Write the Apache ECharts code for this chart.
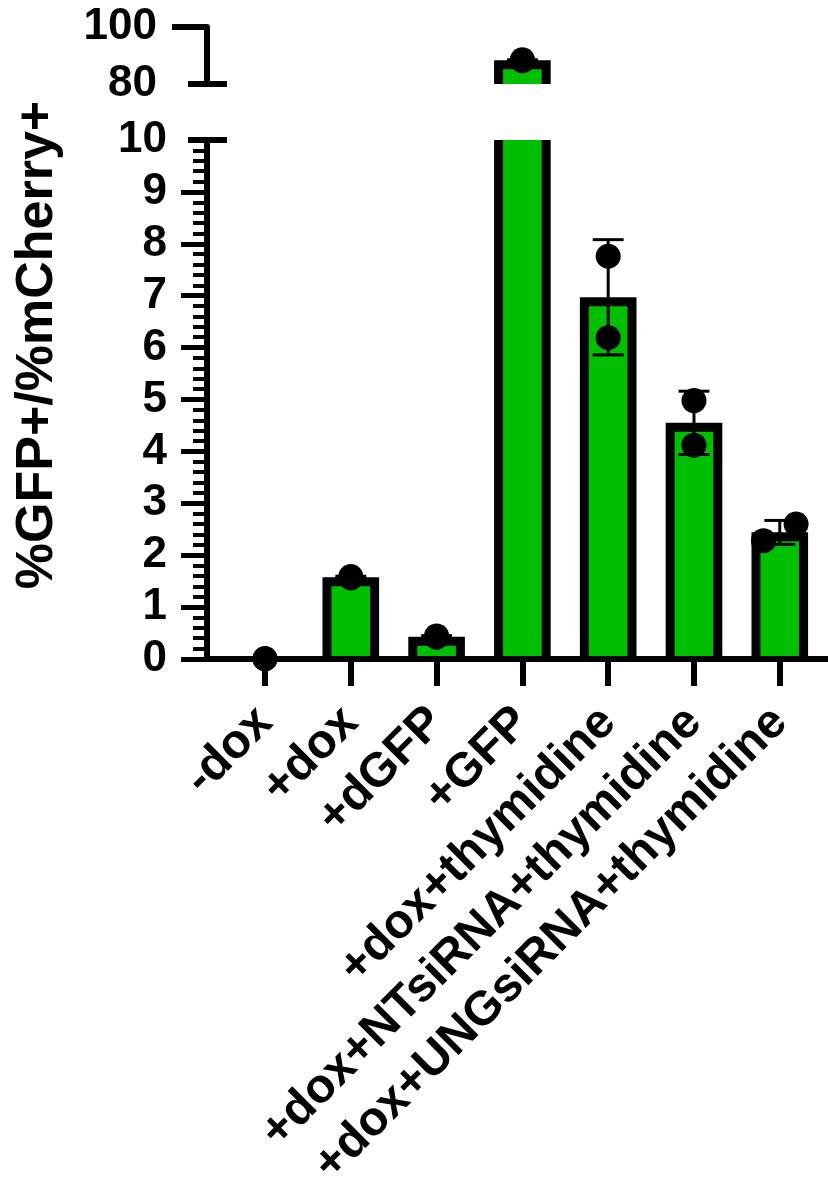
<!DOCTYPE html>
<html><head><meta charset="utf-8">
<script src="https://cdn.jsdelivr.net/npm/echarts@6/dist/echarts.min.js"></script>
<style>html,body{margin:0;padding:0;background:#fff}#c{width:828px;height:1183px}</style>
</head><body><div id="c"></div>
<script>
// ---------- data ----------
const categories = ['-dox', '+dox', '+dGFP', '+GFP', '+dox+thymidine', '+dox+NTsiRNA+thymidine', '+dox+UNGsiRNA+thymidine'];
const means = [0.005, 1.575, 0.43, 88.3, 6.97, 4.55, 2.44];
const sds = [0.005, 0.02, 0.02, 0.2, 1.11, 0.61, 0.23];
const replicate1 = [0.0, 1.59, 0.445, 88.5, 7.76, 4.98, 2.28];
const replicate2 = [0.01, 1.56, 0.42, 88.2, 6.19, 4.12, 2.60];
const lowerTickLabels = [0, 1, 2, 3, 4, 5, 6, 7, 8, 9, 10];
const upperTickLabels = [80, 100];

// ---------- layout / style ----------
const FONT = '"Liberation Sans", Arial, Helvetica, sans-serif';
const GREEN = '#00BE00';
const LOWER = { min: 0, max: 10 };
const UPPER = { min: 80, max: 100 };
const X_RANGE = { min: -0.676, max: 6.562 };
const BAR_W = 0.66;       // bar width, category units
const CAP_W = 0.36;       // error cap width, category units
const BORDER = 9;         // px
const POINT_SPREAD = [[0, 0], [0, 0], [0, 0], [0, 0], [0, 0], [0, 0], [-0.19, 0.19]];

const catIdx = categories.map((_, i) => i);
const replicates = [replicate1, replicate2];

function barRenderer(yMin) {
  return function (params, api) {
    const i = api.value(0), v = api.value(1);
    if (v <= yMin) return null;
    const cs = params.coordSys;
    const base = api.coord([i, yMin]);
    const top = api.coord([i, v]);
    const w = api.size([BAR_W, 0])[0];
    const x0 = base[0] - w / 2;
    const clip = { x: cs.x, y: cs.y, width: cs.width, height: cs.height };
    const children = [];
    const outer = echarts.graphic.clipRectByRect({ x: x0, y: top[1], width: w, height: base[1] - top[1] }, clip);
    if (outer) children.push({ type: 'rect', shape: outer, style: { fill: '#000' } });
    const ih = base[1] - top[1] - BORDER;
    if (ih > 0) {
      const inner = echarts.graphic.clipRectByRect({ x: x0 + BORDER, y: top[1] + BORDER, width: w - 2 * BORDER, height: ih }, clip);
      if (inner) children.push({ type: 'rect', shape: inner, style: { fill: GREEN } });
    }
    return { type: 'group', children };
  };
}

function errRenderer(range) {
  return function (params, api) {
    const i = api.value(0), m = api.value(1), s = api.value(2);
    if (m < range.min || m > range.max) return null;
    const hi = api.coord([i, m + s]), lo = api.coord([i, m - s]);
    const cw = api.size([CAP_W, 0])[0];
    const st = { stroke: '#000', lineWidth: 3 };
    return {
      type: 'group', children: [
        { type: 'line', shape: { x1: hi[0], y1: hi[1], x2: lo[0], y2: lo[1] }, style: st },
        { type: 'line', shape: { x1: hi[0] - cw / 2, y1: hi[1], x2: hi[0] + cw / 2, y2: hi[1] }, style: st },
        { type: 'line', shape: { x1: lo[0] - cw / 2, y1: lo[1], x2: lo[0] + cw / 2, y2: lo[1] }, style: st }
      ]
    };
  };
}

function breakCapRenderer(value) {
  return function (params, api) {
    const cs = params.coordSys;
    const p = api.coord([X_RANGE.min, value]);
    return { type: 'line', shape: { x1: cs.x - 19, y1: p[1], x2: cs.x + 20, y2: p[1] }, style: { stroke: '#000', lineWidth: 6 } };
  };
}

function pointsIn(range) {
  const out = [];
  replicates.forEach((rep, r) => rep.forEach((v, i) => {
    if (v >= range.min && v <= range.max) out.push([i + POINT_SPREAD[i][r], v]);
  }));
  return out;
}

const barData = catIdx.map(i => [i, means[i]]);
const errData = catIdx.map(i => [i, means[i], sds[i]]);

const labelStyle = { color: '#000', fontFamily: FONT, fontWeight: 'bold', fontSize: 44 };

const chart = echarts.init(document.getElementById('c'), null, { renderer: 'canvas' });
chart.setOption({
  animation: false,
  backgroundColor: '#fff',
  grid: [
    { left: 207, width: 621, top: 27, height: 57, containLabel: false, outerBoundsMode: 'none' },
    { left: 207, width: 621, top: 140, height: 519, containLabel: false, outerBoundsMode: 'none' }
  ],
  xAxis: [
    { gridIndex: 0, type: 'value', min: X_RANGE.min, max: X_RANGE.max, show: false },
    {
      gridIndex: 1, type: 'value', min: X_RANGE.min, max: X_RANGE.max, z: 2,
      splitLine: { show: false },
      axisLine: { show: true, onZero: false, lineStyle: { color: '#000', width: 6 } },
      axisTick: { show: true, customValues: catIdx, length: 27, lineStyle: { color: '#000', width: 6 } },
      axisLabel: Object.assign({}, labelStyle, { customValues: catIdx, formatter: v => categories[Math.round(v)], rotate: 45, margin: 56, fontSize: 48 })
    }
  ],
  yAxis: [
    {
      gridIndex: 0, type: 'value', min: UPPER.min, max: UPPER.max, interval: 20, z: 2,
      splitLine: { show: false },
      axisLine: { show: true, onZero: false, lineStyle: { color: '#000', width: 6 } },
      axisTick: { show: true, customValues: [upperTickLabels[upperTickLabels.length - 1]], length: 35, lineStyle: { color: '#000', width: 6 } },
      axisLabel: Object.assign({ customValues: upperTickLabels, margin: 50 }, labelStyle)
    },
    {
      gridIndex: 1, type: 'value', min: LOWER.min, max: LOWER.max, interval: 1, z: 2,
      splitLine: { show: false },
      axisLine: { show: true, onZero: false, lineStyle: { color: '#000', width: 6 } },
      axisTick: { show: true, customValues: lowerTickLabels.slice(0, -1), length: 26, lineStyle: { color: '#000', width: 5 } },
      minorTick: { show: true, splitNumber: 5, length: 14, lineStyle: { color: '#000', width: 4 } },
      axisLabel: Object.assign({ customValues: lowerTickLabels, margin: 40 }, labelStyle)
    }
  ],
  graphic: [{
    type: 'text', x: 64, y: 345, rotation: Math.PI / 2,
    style: { text: '%GFP+/%mCherry+', font: 'bold 52px ' + FONT, textAlign: 'center', textVerticalAlign: 'bottom', fill: '#000' }
  }],
  series: [
    { type: 'custom', xAxisIndex: 0, yAxisIndex: 0, z: 1, renderItem: barRenderer(UPPER.min), data: barData, clip: false },
    { type: 'custom', xAxisIndex: 1, yAxisIndex: 1, z: 1, renderItem: barRenderer(LOWER.min), data: barData, clip: false },
    { type: 'custom', xAxisIndex: 0, yAxisIndex: 0, z: 3, renderItem: errRenderer(UPPER), data: errData, clip: false },
    { type: 'custom', xAxisIndex: 1, yAxisIndex: 1, z: 3, renderItem: errRenderer(LOWER), data: errData, clip: false },
    { type: 'custom', xAxisIndex: 0, yAxisIndex: 0, z: 3, renderItem: breakCapRenderer(UPPER.min), data: [[0]], clip: false },
    { type: 'custom', xAxisIndex: 1, yAxisIndex: 1, z: 3, renderItem: breakCapRenderer(LOWER.max), data: [[0]], clip: false },
    { type: 'scatter', xAxisIndex: 0, yAxisIndex: 0, z: 4, symbol: 'circle', symbolSize: 25, itemStyle: { color: '#000', opacity: 1 }, data: pointsIn(UPPER), clip: false },
    { type: 'scatter', xAxisIndex: 1, yAxisIndex: 1, z: 4, symbol: 'circle', symbolSize: 25, itemStyle: { color: '#000', opacity: 1 }, data: pointsIn(LOWER), clip: false }
  ]
});
</script>
</body></html>
